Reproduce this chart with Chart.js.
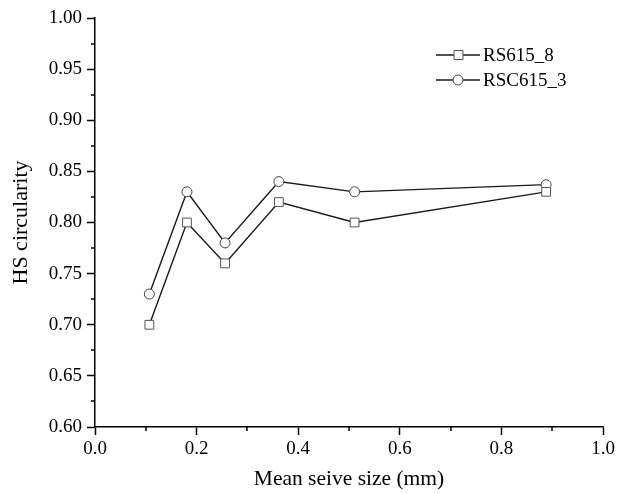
<!DOCTYPE html>
<html>
<head>
<meta charset="utf-8">
<script src="https://cdn.jsdelivr.net/npm/chart.js@4/dist/chart.umd.min.js"></script>
<style>
  html, body { margin: 0; padding: 0; background: #fff; }
  #wrap { width: 617px; height: 494px; }
</style>
</head>
<body>
<div id="wrap"><canvas id="grafica" width="617" height="494"></canvas></div>
<script>
// tamaño de tamiz (mm) y circularidad
const seiveSize = [0.107, 0.181, 0.256, 0.362, 0.511, 0.888];
const rs615_8 = [0.70, 0.80, 0.76, 0.82, 0.80, 0.83];
const rsc615_3 = [0.73, 0.83, 0.78, 0.84, 0.83, 0.837];
const serieNames = ["RS615_8", "RSC615_3"];

const FONT = "'Liberation Serif', 'Times New Roman', serif";

function toPoints(ys) {
    return seiveSize.map((x, i) => ({ x: x, y: ys[i] }));
}

// marcas menores entre los ticks principales
const minorTicks = {
    id: 'minorTicks',
    afterDraw(chart) {
        const ctx = chart.ctx;
        const xs = chart.scales.x, ys = chart.scales.y;
        ctx.save();
        ctx.strokeStyle = '#000';
        ctx.lineWidth = 1.5;
        for (let v = 0.1; v < 1; v += 0.2) {
            const px = Math.round(xs.getPixelForValue(v));
            ctx.beginPath();
            ctx.moveTo(px, xs.top);
            ctx.lineTo(px, xs.top + 4);
            ctx.stroke();
        }
        for (let v = 0.625; v < 1; v += 0.05) {
            const py = Math.round(ys.getPixelForValue(v));
            ctx.beginPath();
            ctx.moveTo(ys.right, py);
            ctx.lineTo(ys.right - 4, py);
            ctx.stroke();
        }
        ctx.restore();
    }
};

// leyenda con linea y marcador, como en el original
const lineLegend = {
    id: 'lineLegend',
    afterDraw(chart) {
        const ctx = chart.ctx;
        ctx.save();
        chart.data.datasets.forEach((ds, i) => {
            const y = 55 + 25 * i;
            ctx.strokeStyle = ds.borderColor;
            ctx.lineWidth = ds.borderWidth;
            ctx.beginPath();
            ctx.moveTo(436, y);
            ctx.lineTo(480, y);
            ctx.stroke();
            ctx.fillStyle = '#fff';
            ctx.strokeStyle = ds.pointBorderColor;
            ctx.lineWidth = 1;
            ctx.beginPath();
            if (ds.pointStyle === 'rect') {
                ctx.rect(454, y - 4.5, 9, 9);
            } else {
                ctx.arc(458, y, 5, 0, Math.PI * 2);
            }
            ctx.fill();
            ctx.stroke();
            ctx.fillStyle = '#000';
            ctx.font = '19px ' + FONT;
            ctx.textAlign = 'left';
            ctx.textBaseline = 'middle';
            ctx.fillText(ds.label, 483, y + 1);
        });
        ctx.restore();
    }
};

const datax = {
    datasets: [{
        label: serieNames[0],
        data: toPoints(rs615_8),
        borderColor: '#1a1a1a',
        borderWidth: 1.4,
        pointStyle: 'rect',
        pointRadius: 6.2,
        pointBorderColor: '#555',
        pointBackgroundColor: '#fff',
        pointBorderWidth: 1,
        showLine: true
    }, {
        label: serieNames[1],
        data: toPoints(rsc615_3),
        borderColor: '#1a1a1a',
        borderWidth: 1.4,
        pointStyle: 'circle',
        pointRadius: 5,
        pointBorderColor: '#444',
        pointBackgroundColor: '#fff',
        pointBorderWidth: 1,
        showLine: true
    }]
};

const config = {
    type: 'scatter',
    data: datax,
    plugins: [minorTicks, lineLegend],
    options: {
        responsive: false,
        animation: false,
        layout: { padding: { top: 18, right: 14, left: 0, bottom: 0 } },
        plugins: { legend: { display: false }, tooltip: { enabled: false } },
        scales: {
            x: {
                type: 'linear',
                min: 0, max: 1,
                afterFit(s) { s.height = 67; s.paddingLeft = 0; s.paddingRight = 0; },
                ticks: {
                    stepSize: 0.2,
                    padding: 3,
                    color: '#000',
                    font: { family: FONT, size: 19 },
                    callback: v => v.toFixed(1)
                },
                grid: { drawOnChartArea: false, drawTicks: true, tickLength: 8, tickWidth: 1.5, tickColor: '#000' },
                border: { display: true, color: '#000', width: 1.5 },
                title: {
                    display: true,
                    text: 'Mean seive size (mm)',
                    color: '#000',
                    font: { family: FONT, size: 21.5 },
                    padding: { top: 0, bottom: 2 }
                }
            },
            y: {
                type: 'linear',
                min: 0.6, max: 1.0,
                afterFit(s) { s.width = 95; s.paddingTop = 0; s.paddingBottom = 0; },
                ticks: {
                    stepSize: 0.05,
                    padding: 5,
                    color: '#000',
                    font: { family: FONT, size: 19 },
                    callback: v => v.toFixed(2)
                },
                grid: { drawOnChartArea: false, drawTicks: true, tickLength: 8, tickWidth: 1.5, tickColor: '#000' },
                border: { display: true, color: '#000', width: 1.5 },
                title: {
                    display: true,
                    text: 'HS circularity',
                    color: '#000',
                    font: { family: FONT, size: 22 },
                    padding: { top: 8, bottom: 0 }
                }
            }
        }
    }
};

const ChartPrincipal = new Chart(document.getElementById('grafica'), config);
</script>
</body>
</html>
